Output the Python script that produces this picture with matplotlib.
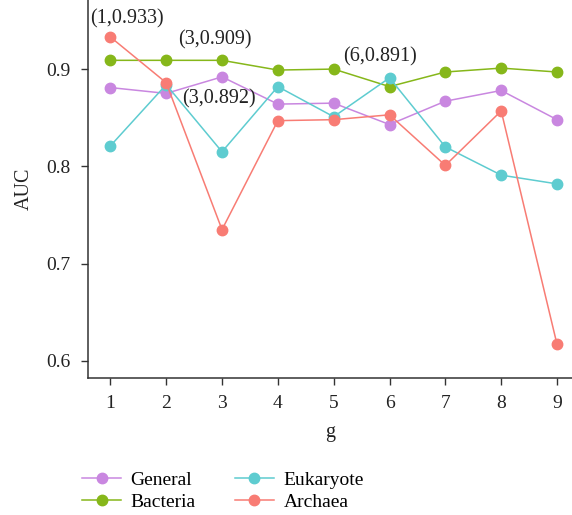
import matplotlib
matplotlib.use("Agg")
import matplotlib.pyplot as plt

plt.rcParams['font.family'] = ['Liberation Serif', 'DejaVu Serif']

g = [1, 2, 3, 4, 5, 6, 7, 8, 9]
series_names = ["General", "Bacteria", "Eukaryote", "Archaea"]
general = [0.881, 0.875, 0.892, 0.864, 0.865, 0.843, 0.867, 0.878, 0.848]
bacteria = [0.909, 0.909, 0.909, 0.899, 0.900, 0.882, 0.897, 0.901, 0.897]
eukaryote = [0.821, 0.884, 0.815, 0.882, 0.851, 0.891, 0.820, 0.791, 0.782]
archaea = [0.933, 0.886, 0.735, 0.847, 0.848, 0.853, 0.801, 0.857, 0.617]
colors = ["#C987E0", "#86B71A", "#5ECCD0", "#F87C74"]

annotations = [
    ("(1,0.933)", 1.29, 0.952),
    ("(3,0.909)", 2.88, 0.930),
    ("(3,0.892)", 2.94, 0.869),
    ("(6,0.891)", 5.83, 0.9127),
]

fig = plt.figure(figsize=(5.72, 5.15), dpi=100)
ax = fig.add_axes([88/572, 1-378/515, 1-88/572, 378/515])

for name, vals, c in zip(series_names, [general, bacteria, eukaryote, archaea], colors):
    ax.plot(g, vals, color=c, lw=1.1, marker='o', ms=7.5, mec=c, mfc=c, label=name)

for txt, x, y in annotations:
    ax.text(x, y, txt, ha='center', va='center', fontsize=14.5, color='#222222')

ax.set_xlim(0.6, 9.268)
ax.set_ylim(0.5825, 0.971)
ax.set_xticks(g)
ax.set_yticks([0.6, 0.7, 0.8, 0.9])
ax.set_yticklabels(["0.6", "0.7", "0.8", "0.9"])
for s in ['top', 'right']:
    ax.spines[s].set_visible(False)
for s in ['left', 'bottom']:
    ax.spines[s].set_color('#333333')
    ax.spines[s].set_linewidth(1.1)
ax.tick_params(axis='both', length=5, width=1, color='#333333', labelsize=14, labelcolor='#222222')
ax.tick_params(axis='y', pad=7.5)
ax.tick_params(axis='x', pad=7)
ax.set_xlabel("g", fontsize=14.5, color='#222222', labelpad=8)
ax.set_ylabel("AUC", fontsize=14.5, color='#222222', labelpad=9)

leg = fig.legend(loc='upper left', bbox_to_anchor=(0.13, 0.10), ncol=2, frameon=False,
                 fontsize=14, handlelength=2.0, columnspacing=2.0, labelspacing=0.24,
                 handletextpad=0.5, borderaxespad=0)
fig.savefig("out.png", dpi=100)
